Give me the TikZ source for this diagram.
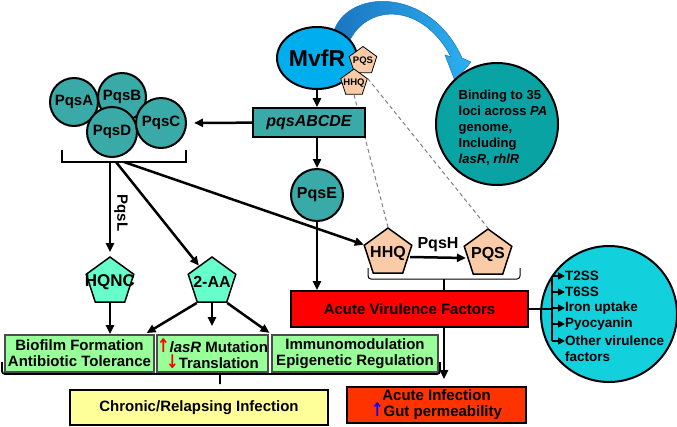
\documentclass[tikz,border=0pt]{standalone}
\usepackage{fontspec}
\usepackage{graphicx}
\setmainfont{Liberation Sans}
\newfontfamily\dejavu{DejaVu Sans}
\usetikzlibrary{arrows.meta,shapes.geometric}
\definecolor{mvfrblue}{HTML}{00AEEF}
\definecolor{pqsteal}{HTML}{3AAAA8}
\definecolor{bindteal}{HTML}{0AA3A4}
\definecolor{peach}{HTML}{F9CBA7}
\definecolor{aqua}{HTML}{66FFCC}
\definecolor{boxgreen}{HTML}{99FF99}
\definecolor{paleyellow}{HTML}{FFFF99}
\definecolor{acutered}{HTML}{FF0000}
\definecolor{infectred}{HTML}{FF3300}
\definecolor{virucyan}{HTML}{12D0DC}
\definecolor{arrowdark}{HTML}{1B75C0}
\definecolor{arrowlight}{HTML}{2CB0F0}

\begin{document}
\begin{tikzpicture}[x=1pt,y=-1pt,>={Triangle[length=9pt,width=8pt]},
ball/.style={circle,draw,line width=2pt,fill=pqsteal,inner sep=0pt,font=\fontsize{15}{15}\selectfont\bfseries},
penta/.style={regular polygon,regular polygon sides=5,draw,line width=1.5pt,inner sep=0pt},
pentatext/.style={font=\fontsize{16}{16}\selectfont\bfseries},
smalltext/.style={font=\fontsize{9.5}{9.5}\selectfont\bfseries},
box/.style={rectangle,draw,line width=1.8pt,inner sep=0pt,align=center,font=\fontsize{15}{16}\selectfont\bfseries},
greenbox/.style={box,draw=black!70,fill=boxgreen,minimum height=37pt},
link/.style={line width=2.5pt,->},
item/.style={anchor=west,inner sep=0pt,font=\fontsize{13.5}{16}\selectfont\bfseries}]
\path[use as bounding box,fill=white](0,0)rectangle(677,426);
\path[left color=arrowdark,right color=arrowlight,draw=arrowdark,line width=.5pt]
(333,34)..controls(345,-12)and(430,-14)..(462,58)--(471,62)--(455,81)--(445,55)--(451,57)
..controls(422,2)and(368,4)..(350,40)--cycle;
\node[ellipse,draw,line width=2pt,fill=mvfrblue,minimum width=80pt,minimum height=62pt,
inner sep=0pt,font=\fontsize{23}{23}\selectfont\bfseries](mvfr)at(317,58){MvfR};
\node[penta,fill=peach,line width=.8pt,minimum size=29pt,label={[smalltext]center:PQS}](pqsS)at(363,61){};
\node[penta,fill=peach,line width=.8pt,minimum size=28pt,label={[smalltext]center:HHQ}](hhqS)at(354,83){};
\node[penta,fill=peach,minimum size=50pt,label={[pentatext]center:HHQ}](hhq)at(388,253){};
\node[penta,fill=peach,minimum size=50pt,label={[pentatext]center:PQS}](pqs)at(488,254){};
\draw[gray,line width=1pt,dash pattern=on 4pt off 3pt](hhqS.south)--(hhq.corner 1);
\draw[gray,line width=1pt,dash pattern=on 4pt off 3pt](hhqS.corner 5)--(pqs.corner 1);
\node[circle,draw,line width=2pt,fill=bindteal,minimum size=122pt,inner sep=0pt](bind)at(497,124){};
\node[align=left,inner sep=0pt,font=\fontsize{13}{16}\selectfont\bfseries](bindtext)at(503,128)
{Binding to 35\\loci across \textit{PA}\\genome,\\Including\\\textit{lasR}, \textit{rhlR}};
\node[box,fill=pqsteal,minimum width=112pt,minimum height=29pt,
font=\fontsize{16}{16}\selectfont\bfseries\itshape](operon)at(309,122.5){pqsABCDE};
\node[ball,minimum size=48pt](pqsA)at(74,102){PqsA};
\node[ball,minimum size=48pt](pqsB)at(122,97){PqsB};
\node[ball,minimum size=50pt](pqsD)at(112,132){PqsD};
\node[ball,minimum size=50pt](pqsC)at(161,123){PqsC};
\node[ball,minimum size=52pt,font=\fontsize{16}{16}\selectfont\bfseries](pqsE)at(317,195){PqsE};
\node[penta,fill=aqua,minimum size=50pt,label={[font=\fontsize{17}{17}\selectfont\bfseries]center:HQNC}](hqnc)at(110,282){};
\node[penta,fill=aqua,minimum size=50pt,label={[pentatext]center:2-AA}](twoaa)at(212,282){};
\node[box,fill=acutered,minimum width=237pt,minimum height=36pt](avf)at(409.5,309){Acute Virulence Factors};
\node[circle,draw,line width=2pt,fill=virucyan,minimum size=136pt,inner sep=0pt](viru)at(609,314){};
\node[item](t2ss)at(565,276){T2SS};
\node[item](t6ss)at(565,292){T6SS};
\node[item](iron)at(565,308){Iron uptake};
\node[item](pyo)at(565,324){Pyocyanin};
\node[item](other)at(565,341){Other virulence};
\node[item](factors)at(565,357){factors};
\node[greenbox,minimum width=149pt](bio)at(79.5,353.5){Biofilm Formation\\Antibiotic Tolerance};
\node[greenbox,minimum width=111pt](las)at(212.5,353.5)
{{\dejavu\color{red}\scalebox{1}[1.25]{↑}}\textit{lasR} Mutation\\{\dejavu\color{red}\scalebox{1}[1.25]{↓}}Translation};
\node[greenbox,minimum width=166pt](imm)at(355,353.5){Immunomodulation\\Epigenetic Regulation};
\node[box,fill=paleyellow,minimum width=258pt,minimum height=35pt](chr)at(199,407.5){Chronic/Relapsing Infection};
\node[box,fill=infectred,minimum width=179pt,minimum height=36pt](ai)at(436.5,405)
{Acute Infection\\{\dejavu\color{blue}\scalebox{1}[1.25]{↑}}Gut permeability};
\draw[link](mvfr)--(operon.north-|mvfr);
\draw[link,shorten >=7pt](operon)--(pqsC);
\draw[link](operon.south-|pqsE)--(pqsE);
\draw[line width=2.5pt](62,150)--(62,162)--(186,162)--(186,150);
\coordinate(brL)at(110,162);
\coordinate(brM)at(116,162);
\coordinate(brR)at(124,162);
\draw[link,shorten >=4pt](brL)--(hqnc.corner 1);
\node[rotate=-90,inner sep=0pt,font=\fontsize{15}{15}\selectfont\bfseries](pqsl)at(121,213){PqsL};
\draw[link](brM)--(twoaa);
\draw[link](brR)--(hhq);
\draw[link](pqsE)--(pqsE|-avf.north);
\draw[link]([yshift=-4pt]hhq.east)--([yshift=-4pt]pqs.west)
node[midway,above=1pt,font=\fontsize{16}{16}\selectfont\bfseries](pqsh){PqsH};
\draw[line width=1pt,rounded corners=3pt](368,268)--(368,279)--(520,279)--(520,268);
\coordinate(vb)at(444,279);
\draw[line width=1.5pt](vb)--(vb|-avf.north);
\draw[link,shorten >=7pt](avf.south-|vb)--(ai.north-|vb);
\coordinate(vt)at(552,309);
\draw[line width=2.5pt](avf.east)--(vt);
\draw[line width=2.5pt](vt|-t2ss)--(vt|-other);
\foreach \n in {t2ss,t6ss,iron,pyo,other}
\draw[line width=1.5pt,-{Triangle[length=7pt,width=7pt]}](vt|-\n)--(\n);
\draw[link](hqnc.south)--(hqnc.south|-bio.north);
\draw[link,shorten >=2pt](twoaa.corner 3)--([xshift=-10pt]bio.north east);
\draw[link,shorten >=8pt](twoaa.south)--(twoaa.south|-las.north);
\draw[link,shorten >=2pt](twoaa.corner 4)--(imm.north west);
\draw[line width=1.8pt,rounded corners=3pt](2,362)--(2,374)--(440,374)--(440,362)(220,374)--(220,384);
\end{tikzpicture}
\end{document}
